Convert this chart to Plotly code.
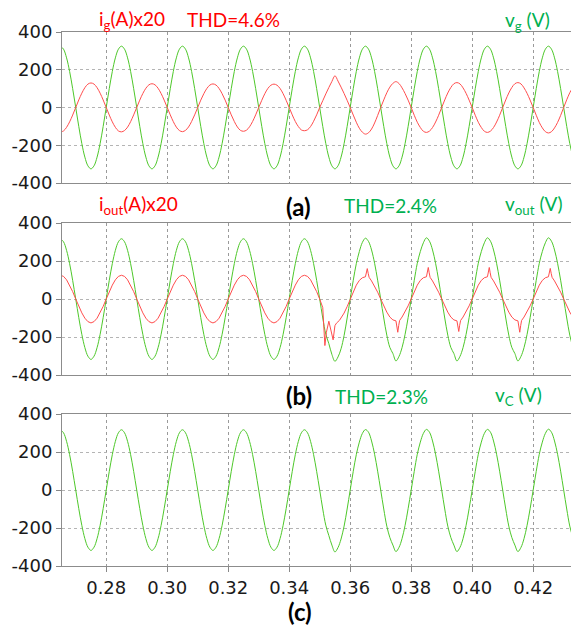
import numpy as np
import plotly.graph_objects as go

# scope samples, 1 ms apart (s)
t = np.arange(265, 434) / 1000

# (a) grid voltage v_g (V)
v_g = [
    325, 309, 263, 191, 100, 0, -100, -191, -263, -309, -325, -309, -263, -191, -100, 0, 100, 191, 263, 309,
    325, 309, 263, 191, 100, 0, -100, -191, -263, -309, -325, -309, -263, -191, -100, 0, 100, 191, 263, 309,
    325, 309, 263, 191, 100, 0, -100, -191, -263, -309, -325, -309, -263, -191, -100, 0, 100, 191, 263, 309,
    325, 309, 263, 191, 100, 0, -100, -191, -263, -309, -325, -309, -263, -191, -100, 0, 100, 191, 263, 309,
    325, 309, 263, 191, 100, 0, -100, -191, -263, -309, -325, -309, -263, -191, -100, 0, 100, 191, 263, 309,
    325, 309, 263, 191, 100, 0, -100, -191, -263, -309, -325, -309, -263, -191, -100, 0, 100, 191, 263, 309,
    325, 309, 263, 191, 100, 0, -100, -191, -263, -309, -325, -309, -263, -191, -100, 0, 100, 191, 263, 309,
    325, 309, 263, 191, 100, 0, -100, -191, -263, -309, -325, -309, -263, -191, -100, 0, 100, 191, 263, 309,
    325, 309, 263, 191, 100, 0, -100, -191, -263,
]

# (a) grid current i_g x20
i_g = [
    -130, -124, -105, -76, -40, 0, 40, 76, 105, 124, 130, 124, 105, 76, 40, 0, -40, -76, -105, -124,
    -129, -122, -104, -75, -39, 0, 39, 74, 102, 120, 126, 120, 102, 74, 39, 0, -39, -75, -104, -122,
    -128, -121, -103, -74, -39, 0, 39, 73, 101, 119, 125, 119, 101, 73, 39, 0, -39, -74, -103, -121,
    -126, -120, -102, -74, -39, 0, 38, 73, 101, 118, 124, 118, 101, 73, 38, 0, -39, -74, -101, -119,
    -123, -118, -101, -73, -39, 0, 36, 72, 106, 138, 168, 140, 108, 74, 38, 0, -40, -78, -110, -131,
    -141, -134, -114, -82, -42, 0, 40, 78, 108, 128, 137, 127, 104, 74, 39, 0, -41, -78, -106, -126,
    -132, -125, -106, -77, -41, 0, 40, 77, 106, 126, 132, 125, 104, 75, 39, 0, -41, -78, -106, -126,
    -132, -125, -106, -77, -41, 0, 40, 77, 106, 126, 132, 125, 104, 75, 39, 0, -41, -79, -108, -128,
    -135, -128, -108, -79, -42, 0, 41, 78, 107,
]

# (b) output voltage v_out (V)
v_out = [
    317, 301, 256, 186, 98, 0, -98, -186, -256, -301, -318, -301, -256, -186, -98, 0, 98, 186, 256, 301,
    317, 301, 256, 186, 98, 0, -98, -186, -256, -301, -318, -301, -256, -186, -98, 0, 98, 186, 256, 301,
    317, 301, 256, 186, 98, 0, -98, -186, -256, -301, -318, -301, -256, -186, -98, 0, 98, 186, 256, 301,
    317, 301, 256, 186, 98, 0, -98, -186, -256, -301, -318, -301, -256, -186, -98, 0, 98, 186, 256, 301,
    317, 301, 256, 186, 98, 0, -100, -185, -235, -292, -328, -305, -262, -192, -100, 0, 98, 186, 250, 298,
    320, 303, 258, 188, 99, 0, -100, -190, -255, -287, -326, -302, -256, -186, -98, 0, 98, 188, 250, 296,
    322, 304, 258, 188, 99, 0, -100, -190, -255, -287, -326, -302, -256, -186, -98, 0, 98, 188, 250, 296,
    322, 304, 258, 188, 99, 0, -100, -190, -255, -287, -326, -302, -256, -186, -98, 0, 98, 188, 250, 296,
    322, 304, 258, 188, 99, 0, -100, -190, -255,
]

# (b) output current i_out x20, denser samples around the spikes
t_iout = list(np.arange(265, 350) / 1000) + [
    0.350, 0.351, 0.3517, 0.3522, 0.353, 0.3537, 0.3544, 0.355, 0.3555, 0.3565, 0.357, 0.358, 0.359, 0.360,
    0.361, 0.362, 0.363, 0.364, 0.365, 0.3653, 0.3656, 0.3659, 0.3662, 0.367, 0.368, 0.369, 0.370,
    0.371, 0.372, 0.373, 0.374, 0.375, 0.3753, 0.3756, 0.3759, 0.3762, 0.377, 0.378, 0.379, 0.380,
    0.381, 0.382, 0.383, 0.384, 0.385, 0.3853, 0.3856, 0.3859, 0.3862, 0.387, 0.388, 0.389, 0.390,
    0.391, 0.392, 0.393, 0.394, 0.395, 0.3953, 0.3956, 0.3959, 0.3962, 0.397, 0.398, 0.399, 0.400,
    0.401, 0.402, 0.403, 0.404, 0.405, 0.4053, 0.4056, 0.4059, 0.4062, 0.407, 0.408, 0.409, 0.410,
    0.411, 0.412, 0.413, 0.414, 0.415, 0.4153, 0.4156, 0.4159, 0.4162, 0.417, 0.418, 0.419, 0.420,
    0.421, 0.422, 0.423, 0.424, 0.425, 0.4253, 0.4256, 0.4259, 0.4262, 0.427, 0.428, 0.429, 0.430,
    0.431, 0.432, 0.433,
]
i_out = [
    125, 119, 101, 73, 39, 0, -39, -73, -101, -119, -126, -119, -101, -73, -39, 0, 39, 73, 101, 119,
    125, 119, 101, 73, 39, 0, -39, -73, -101, -119, -126, -119, -101, -73, -39, 0, 39, 73, 101, 119,
    125, 119, 101, 73, 39, 0, -39, -73, -101, -119, -126, -119, -101, -73, -39, 0, 39, 73, 101, 119,
    125, 119, 101, 73, 39, 0, -39, -73, -101, -119, -126, -119, -101, -73, -39, 0, 39, 73, 101, 119,
    125, 119, 101, 73, 39,
    0, -45, -245, -175, -117, -160, -215, -140, -127, -112, -100, -74, -40, 0,
    39, 73, 98, 112, 117, 135, 160, 135, 114, 95, 69, 36, 0,
    -36, -69, -95, -110, -115, -140, -175, -140, -113, -95, -69, -36, 0,
    39, 73, 98, 112, 117, 138, 166, 138, 114, 95, 69, 36, 0,
    -36, -69, -95, -110, -115, -138, -171, -138, -113, -95, -69, -36, 0,
    39, 73, 98, 112, 117, 138, 166, 138, 114, 95, 69, 36, 0,
    -36, -69, -95, -110, -115, -140, -175, -140, -113, -95, -69, -36, 0,
    39, 73, 98, 112, 117, 135, 161, 135, 114, 95, 69, 36, 0,
    -36, -69, -95,
]

# (c) capacitor voltage v_C (V)
v_c = [
    317, 301, 256, 186, 98, 0, -98, -186, -256, -301, -318, -301, -256, -186, -98, 0, 98, 186, 256, 301,
    317, 301, 256, 186, 98, 0, -98, -186, -256, -301, -318, -301, -256, -186, -98, 0, 98, 186, 256, 301,
    317, 301, 256, 186, 98, 0, -98, -186, -256, -301, -318, -301, -256, -186, -98, 0, 98, 186, 256, 301,
    317, 301, 256, 186, 98, 0, -98, -186, -256, -301, -318, -301, -256, -186, -98, 0, 98, 186, 256, 301,
    317, 301, 256, 186, 98, 0, -100, -186, -240, -290, -326, -303, -258, -190, -100, 0, 98, 186, 252, 298,
    318, 304, 258, 188, 99, 0, -100, -190, -250, -290, -324, -302, -256, -186, -98, 0, 98, 188, 252, 298,
    319, 304, 258, 188, 99, 0, -100, -190, -250, -290, -324, -302, -256, -186, -98, 0, 98, 188, 252, 298,
    319, 304, 258, 188, 99, 0, -100, -190, -250, -290, -324, -302, -256, -186, -98, 0, 98, 188, 252, 298,
    320, 304, 258, 188, 99, 0, -100, -190, -250,
]

y_ticks = [-400, -200, 0, 200, 400]
y_labels = ['-400', '-200', '0', '200', '400']
x_ticks = [0.28, 0.30, 0.32, 0.34, 0.36, 0.38, 0.40, 0.42]
x_labels = ['0.28', '0.30', '0.32', '0.34', '0.36', '0.38', '0.40', '0.42']

GREEN = '#4ec82a'
RED = '#ff4d4d'
TXT_GREEN = '#00b050'
TXT_RED = '#ff0000'

W, H = 571, 630
L, R, T, B = 62, 0, 32, 64
PW, PH = W - L - R, H - T - B


def px(x, y):
    # pixel position -> paper coords
    return (x - L) / PW, (H - B - y) / PH


fig = go.Figure()
fig.add_scatter(x=t, y=v_g, mode='lines', line=dict(color=GREEN, width=1, shape='spline'), xaxis='x', yaxis='y')
fig.add_scatter(x=t, y=i_g, mode='lines', line=dict(color=RED, width=1, shape='spline'), xaxis='x', yaxis='y')
fig.add_scatter(x=t, y=v_out, mode='lines', line=dict(color=GREEN, width=1, shape='spline'), xaxis='x2', yaxis='y2')
fig.add_scatter(x=t_iout, y=i_out, mode='lines', line=dict(color=RED, width=1), xaxis='x2', yaxis='y2')
fig.add_scatter(x=t, y=v_c, mode='lines', line=dict(color=GREEN, width=1, shape='spline'), xaxis='x3', yaxis='y3')

domains = [(383, 534), (191, 343), (0, 152)]
xr = [0.2655, 0.4324]
tick_font = dict(family='DejaVu Sans', size=18, color='#1a1a1a')
layout = dict(
    width=W, height=H,
    margin=dict(l=L, r=R, t=T, b=B),
    paper_bgcolor='white', plot_bgcolor='white',
    showlegend=False,
)
for n, (lo, hi) in enumerate(domains, start=1):
    sfx = '' if n == 1 else str(n)
    last = n == 3
    layout['xaxis' + sfx] = dict(
        range=xr, anchor='y' + sfx, domain=[0, 1], automargin=False,
        matches=None if n == 1 else 'x',
        tickvals=x_ticks, ticktext=x_labels,
        showticklabels=last, ticks='outside' if last else '', ticklen=5, tickcolor='#888',
        showline=True, linecolor='#8c8c8c', linewidth=1, mirror=True,
        showgrid=True, gridcolor='#9a9a9a', griddash='dot', gridwidth=1,
        zeroline=False, tickfont=tick_font,
    )
    layout['yaxis' + sfx] = dict(
        range=[-400, 400], anchor='x' + sfx, domain=[lo / PH, hi / PH], automargin=False,
        tickvals=y_ticks, ticktext=y_labels,
        ticks='outside', ticklen=5, tickcolor='#888',
        showline=True, linecolor='#8c8c8c', linewidth=1,
        showgrid=True, gridcolor='#b4b4b4', griddash='dot', gridwidth=1,
        zeroline=False, tickfont=tick_font,
    )
fig.update_layout(**layout)

lab_font = 'Lato'
labels = [
    ('i<sub>g</sub>(A)x20', 97, 20, TXT_RED, 'left'),
    ('THD=4.6%', 185, 20, TXT_RED, 'left'),
    ('v<sub>g</sub> (V)', 503, 21, TXT_GREEN, 'left'),
    ('i<sub>out</sub>(A)x20', 97, 205, TXT_RED, 'left'),
    ('THD=2.4%', 342, 205, TXT_GREEN, 'left'),
    ('v<sub>out</sub> (V)', 503, 205, TXT_GREEN, 'left'),
    ('THD=2.3%', 333, 396, TXT_GREEN, 'left'),
    ('v<sub>C</sub> (V)', 493, 396, TXT_GREEN, 'left'),
]
for text, x, y, col, anc in labels:
    ax, ay = px(x, y)
    fig.add_annotation(text=text, x=ax, y=ay, xref='paper', yref='paper', xanchor=anc, yanchor='middle',
                       showarrow=False, font=dict(family=lab_font, size=19, color=col))

for text, x, y in [('(a)', 298, 206), ('(b)', 299, 395), ('(c)', 300, 611)]:
    ax, ay = px(x, y)
    fig.add_annotation(text='<b>%s</b>' % text, x=ax, y=ay, xref='paper', yref='paper', xanchor='center',
                       yanchor='middle', showarrow=False, font=dict(family=lab_font, size=24, color='black'))

# the page body has a default 8px margin; drop it so the figure sits at the corner
fig.write_html('out.html', config={'displayModeBar': False},
               post_script="document.body.style.margin='0';document.body.style.padding='0';")
